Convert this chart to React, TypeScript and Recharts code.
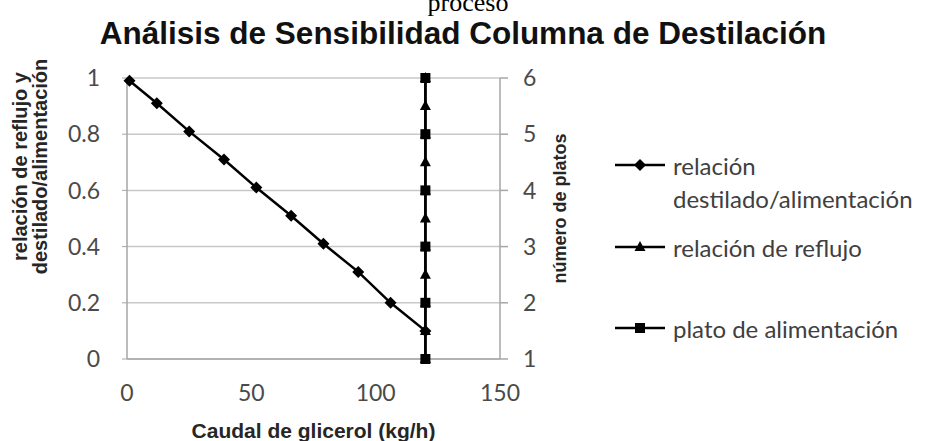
import React from 'react';
import { LineChart, Line, XAxis, YAxis, CartesianGrid, Label } from 'recharts';

// datos
const caudalDestilado = [1, 12, 25, 39, 52, 66, 79, 93, 106, 120];
const relacionDestilado = [0.99, 0.91, 0.81, 0.71, 0.61, 0.51, 0.41, 0.31, 0.2, 0.1];
const caudalReflujo = [120, 120, 120, 120, 120, 120, 120, 120, 120, 120, 120];
const relacionReflujo = [0, 0.1, 0.2, 0.3, 0.4, 0.5, 0.6, 0.7, 0.8, 0.9, 1];
const caudalPlato = [120, 120, 120, 120, 120, 120];
const platoAlimentacion = [1, 2, 3, 4, 5, 6];

const xTicks = [0, 50, 100, 150];
const leftTicks = [0, 0.2, 0.4, 0.6, 0.8, 1];
const rightTicks = [1, 2, 3, 4, 5, 6];

const seriesNames = ['relación destilado/alimentación', 'relación de reflujo', 'plato de alimentación'];
const legendLines = [['relación', 'destilado/alimentación'], ['relación de reflujo'], ['plato de alimentación']];
const leftTitleLines = ['relación de reflujo y', 'destilado/alimentación'];

const toPoints = (xs: number[], ys: number[]) => xs.map((x, i) => ({ x, y: ys[i] }));
const destiladoData = toPoints(caudalDestilado, relacionDestilado);
const reflujoData = toPoints(caudalReflujo, relacionReflujo);
const platoData = toPoints(caudalPlato, platoAlimentacion);

const AXIS = '#a6a6a6';
const TICK_FONT = { fontFamily: 'Lato, sans-serif', fontSize: 23, fill: '#4a4a4a' };
const BOLD = 'Liberation Sans, Arial, sans-serif';

const diamond = (cx: number, cy: number, key?: string) => (
  <polygon key={key} points={`${cx},${cy - 6} ${cx + 6},${cy} ${cx},${cy + 6} ${cx - 6},${cy}`} fill="#000" />
);
const triangle = (cx: number, cy: number, key?: string) => (
  <polygon key={key} points={`${cx},${cy - 6} ${cx + 5.5},${cy + 4} ${cx - 5.5},${cy + 4}`} fill="#000" />
);
const square = (cx: number, cy: number, key?: string) => (
  <rect key={key} x={cx - 5} y={cy - 5} width={10} height={10} fill="#000" />
);
const markers = [diamond, triangle, square];

const LeftTitle = (props: any) => {
  const { viewBox } = props;
  const cy = viewBox.y + viewBox.height / 2 - 52;
  const xs = [viewBox.x - 47, viewBox.x - 27];
  return (
    <g>
      {leftTitleLines.map((t, i) => (
        <text key={t} x={xs[i]} y={cy} transform={`rotate(-90, ${xs[i]}, ${cy})`} textAnchor="middle"
          dominantBaseline="central" fontFamily={BOLD} fontWeight="bold" fontSize={20} fill="#262626">{t}</text>
      ))}
    </g>
  );
};

const RightTitle = (props: any) => {
  const { viewBox } = props;
  const x = viewBox.x + 60;
  const cy = viewBox.y + viewBox.height / 2 - 10;
  return (
    <text x={x} y={cy} transform={`rotate(-90, ${x}, ${cy})`} textAnchor="middle" dominantBaseline="central"
      fontFamily={BOLD} fontWeight="bold" fontSize={18} fill="#262626">número de platos</text>
  );
};

const BottomTitle = (props: any) => {
  const { viewBox } = props;
  return (
    <text x={viewBox.x + viewBox.width / 2} y={viewBox.y + 71} textAnchor="middle" dominantBaseline="central"
      fontFamily={BOLD} fontWeight="bold" fontSize={21} fill="#262626">Caudal de glicerol (kg/h)</text>
  );
};

const legendY = [165, 247, 328];

export default function App() {
  return (
    <div style={{ position: 'absolute', left: 0, top: 0, width: 926, height: 441, overflow: 'hidden', background: '#fff' }}>
      <LineChart width={926} height={441} margin={{ top: 78, right: 366, bottom: 42, left: 67 }}>
        <CartesianGrid yAxisId="left" vertical={false} stroke="#c8c8c8" strokeWidth={1.5} />
        <XAxis type="number" dataKey="x" domain={[0, 150]} ticks={xTicks} height={40}
          axisLine={{ stroke: AXIS, strokeWidth: 1.5 }} tickLine={false} tickSize={5} tickMargin={21} tick={TICK_FONT}>
          <Label content={<BottomTitle />} />
        </XAxis>
        <YAxis yAxisId="left" type="number" domain={[0, 1]} ticks={leftTicks} width={60}
          axisLine={{ stroke: AXIS, strokeWidth: 1.5 }} tickLine={{ stroke: AXIS }} tickSize={5} tickMargin={22} tick={TICK_FONT}>
          <Label content={<LeftTitle />} />
        </YAxis>
        <YAxis yAxisId="right" orientation="right" type="number" domain={[1, 6]} ticks={rightTicks} width={60}
          axisLine={{ stroke: AXIS, strokeWidth: 1.5 }} tickLine={{ stroke: AXIS, strokeWidth: 1.5 }} tickSize={8} tickMargin={15}
          tick={{ ...TICK_FONT, textAnchor: 'start' }}>
          <Label content={<RightTitle />} />
        </YAxis>
        <Line yAxisId="left" data={destiladoData} dataKey="y" name={seriesNames[0]} stroke="#000" strokeWidth={2.5}
          isAnimationActive={false} dot={(p: any) => diamond(p.cx, p.cy, `d${p.index}`)} activeDot={false} />
        <Line yAxisId="left" data={reflujoData} dataKey="y" name={seriesNames[1]} stroke="#000" strokeWidth={2.5}
          isAnimationActive={false} dot={(p: any) => triangle(p.cx, p.cy, `t${p.index}`)} activeDot={false} />
        <Line yAxisId="right" data={platoData} dataKey="y" name={seriesNames[2]} stroke="#000" strokeWidth={2.5}
          isAnimationActive={false} dot={(p: any) => square(p.cx, p.cy, `s${p.index}`)} activeDot={false} />
      </LineChart>
      <svg width={926} height={441} style={{ position: 'absolute', left: 0, top: 0, pointerEvents: 'none' }}>
        <text x={468} y={11} textAnchor="middle" fontFamily="Liberation Serif, Times New Roman, serif" fontSize={26} fill="#000">proceso</text>
        <text x={463} y={44} textAnchor="middle" fontFamily={BOLD} fontWeight="bold" fontSize={31.5} fill="#111">
          Análisis de Sensibilidad Columna de Destilación
        </text>
        {legendLines.map((lines, i) => (
          <g key={seriesNames[i]}>
            <line x1={615} x2={665} y1={legendY[i]} y2={legendY[i]} stroke="#000" strokeWidth={2.5} />
            {markers[i](640, legendY[i])}
            {lines.map((t, j) => (
              <text key={t} x={673} y={legendY[i] + j * 33} dominantBaseline="central" fontFamily="Lato, sans-serif"
                fontSize={24} fill="#404040">{t}</text>
            ))}
          </g>
        ))}
      </svg>
    </div>
  );
}
